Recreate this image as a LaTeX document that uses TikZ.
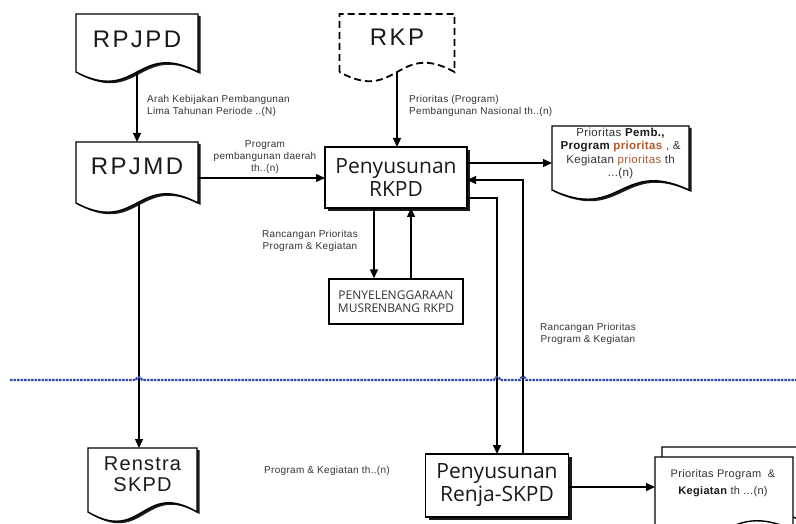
\documentclass[tikz,border=0pt]{standalone}
\usepackage{fontspec}
\setmainfont{Liberation Sans}
\newfontfamily\opensans{Open Sans}
\newfontfamily\arialwide[LetterSpace=10]{Liberation Sans}
\newfontfamily\arialmid[LetterSpace=6]{Liberation Sans}
\newfontfamily\ariallab[LetterSpace=3]{Liberation Sans}
\usetikzlibrary{arrows.meta,calc,shadows}
\definecolor{lbl}{HTML}{333333}
\definecolor{ink}{HTML}{1A1A1A}
\definecolor{prbrown}{HTML}{B0592A}
\definecolor{sepblue}{RGB}{50,75,175}
\newcommand{\docpath}[2]{(#1.south west) -- (#1.north west) -- (#1.north east) -- (#1.south east) .. controls ($(#1.south)+(0,-#2)$) and ($(#1.south)+(0,#2)$) .. (#1.south west) -- cycle}
\tikzset{
  arr/.style={line width=1.3pt, -{Triangle[length=9pt,width=8pt]}},
  body/.style={inner sep=0pt, outer sep=0pt},
  shapebox/.style={draw=black, line width=1.4pt, fill=white},
  docshadow/.style={fill=ink, transform canvas={shift={(2.5,2)}}},
  bigdoc/.style={font=\arialwide\fontsize{24}{28}\selectfont, text=ink, inner sep=0pt},
  middoc/.style={font=\arialmid\fontsize{20}{21}\selectfont, text=ink, inner sep=0pt, align=center},
  procbox/.style={draw=black, line width=1.4pt, fill=white, inner sep=0pt, outer sep=0pt,
     font=\opensans\fontsize{21}{23}\selectfont, text=ink, align=center,
     drop shadow={shadow xshift=3pt, shadow yshift=-3pt, fill=ink, opacity=1}},
  lab/.style={font=\ariallab\fontsize{10}{12}\selectfont, text=lbl, inner sep=0pt},
  outtxt/.style={font=\ariallab\fontsize{11.5}{13.3}\selectfont, text=lbl, inner sep=0pt, align=center},
}
\begin{document}
\begin{tikzpicture}[x=1pt,y=-1pt]
\clip (0,0) rectangle (796,524);
\fill[white] (0,0) rectangle (796,524);

% helper coordinates (levels and columns)
\coordinate (h163) at (0,163);
\coordinate (h178) at (0,178);
\coordinate (h180) at (0,180);
\coordinate (h198) at (0,198);
\coordinate (h487) at (0,487);
\coordinate (v139) at (139,0);
\coordinate (v374) at (374,0);
\coordinate (v411) at (411,0);
\coordinate (v497) at (497,0);
\coordinate (v523) at (523,0);

% ---------- documents ----------
% RPJPD
\node[body, minimum width=122pt, minimum height=58pt] (rpjpd) at (137,43) {};
\path[docshadow] \docpath{rpjpd}{32};
\draw[shapebox] \docpath{rpjpd}{32};
\node[bigdoc] (rpjpdT) at (137,39) {RPJPD};

% RPJMD
\node[body, minimum width=122pt, minimum height=61pt] (rpjmd) at (137,172.5) {};
\path[docshadow] \docpath{rpjmd}{32};
\draw[shapebox] \docpath{rpjmd}{32};
\node[bigdoc] (rpjmdT) at (137,166) {RPJMD};

% RKP (dashed)
\node[body, minimum width=115pt, minimum height=58pt] (rkp) at (397,43) {};
\draw[draw=black, fill=white, line width=1.8pt, dash pattern=on 7pt off 4pt] \docpath{rkp}{32};
\node[bigdoc] (rkpT) at (397,37.5) {RKP};

% Output 1
\node[body, minimum width=137pt, minimum height=64pt] (out1) at (620.5,158) {};
\path[docshadow] \docpath{out1}{32};
\draw[shapebox] \docpath{out1}{32};
\node[outtxt] (out1T) at (620.5,153.5) {Prioritas \textbf{\color{ink}Pemb.,}\\
  \textbf{\color{ink}Program} \textcolor{prbrown}{\textbf{prioritas}} , \&\\
  Kegiatan \textcolor{prbrown}{prioritas} th\\
  ...(n)};

% Renstra SKPD
\node[body, minimum width=109pt, minimum height=64pt] (renstra) at (142.5,480) {};
\path[docshadow] \docpath{renstra}{32};
\draw[shapebox] \docpath{renstra}{32};
\node[middoc] (renstraT) at (142.5,474) {Renstra\\SKPD};

% Output 2 (multi document)
\node[body, minimum width=138pt, minimum height=73pt] (out2) at (724,493.5) {};
\draw[shapebox, transform canvas={shift={(7,-10)}}] \docpath{out2}{32};
\draw[shapebox] \docpath{out2}{32};
\node[outtxt, font=\ariallab\fontsize{11}{17}\selectfont] (out2T) at (723,483.5)
  {Prioritas Program\ \ \&\\\textbf{\color{ink}Kegiatan} th ...(n)};

% ---------- process boxes ----------
\node[procbox, minimum width=142pt, minimum height=61pt] (rkpd) at (396,177.5) {Penyusunan\\RKPD};
\node[procbox, minimum width=143pt, minimum height=63pt] (renja) at (497,485.5) {Penyusunan\\Renja-SKPD};
\node[draw=black, line width=1.3pt, fill=white, minimum width=134pt, minimum height=45pt, inner sep=0pt,
      font=\opensans\fontsize{12}{13}\selectfont, text=lbl, align=center] (musren) at (396,301.5)
      {PENYELENGGARAAN\\MUSRENBANG RKPD};

% ---------- connectors ----------
\draw[arr] (rpjpd.south) -- (rpjmd.north);
\draw[arr] (rpjmd.east |- h178) -- (rkpd.west |- h178);
\draw[arr] (rkp.south) -- (rkpd.north -| rkp.south);
\draw[arr] (rkpd.east |- h163) -- (out1.west |- h163);
\draw[arr] (rkpd.east |- h198) -| (renja.north -| v497);
\draw[arr] (renja.north -| v523) |- (rkpd.east |- h180);
\draw[arr] (rkpd.south -| v374) -- (musren.north -| v374);
\draw[arr] (musren.north -| v411) -- (rkpd.south -| v411);
\draw[arr] (rpjmd.south -| v139) -- (renstra.north -| v139);
\draw[arr] (renja.east |- h487) -- (out2.west |- h487);

% ---------- labels ----------
\node[lab, anchor=west, align=left] (l1) at (147,106) {Arah Kebijakan Pembangunan\\Lima Tahunan Periode ..(N)};
\node[lab, align=center] (l2) at (265,157.5) {Program\\pembangunan daerah\\th..(n)};
\node[lab, anchor=west, align=left] (l3) at (409,106) {Prioritas (Program)\\Pembangunan Nasional th..(n)};
\node[lab, align=center] (l4) at (310,240.5) {Rancangan Prioritas\\Program \& Kegiatan};
\node[lab, align=center] (l5) at (588,333.5) {Rancangan Prioritas\\Program \& Kegiatan};
\node[lab] (l6) at (327,471) {Program \& Kegiatan th..(n)};

% ---------- separator ----------
\draw[sepblue, line width=2.2pt, dash pattern=on 2.5pt off 1pt]
  (10,380) -- (136,380) arc[start angle=180, end angle=360, radius=3]
  -- (494,380) arc[start angle=180, end angle=360, radius=3]
  -- (520,380) arc[start angle=180, end angle=360, radius=3]
  -- (796,380);
\end{tikzpicture}
\end{document}
